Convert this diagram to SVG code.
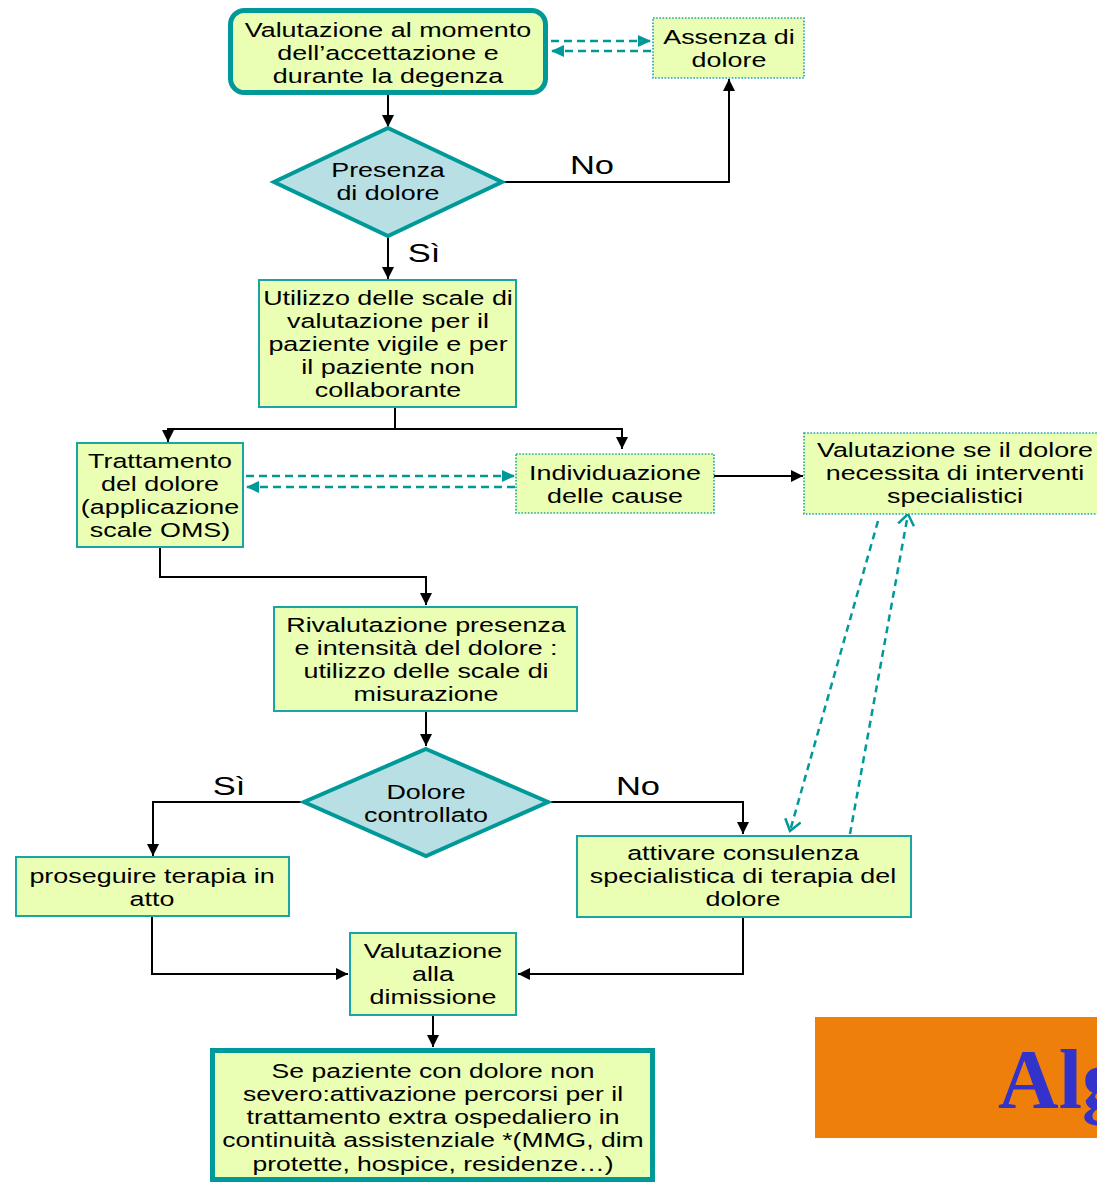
<svg xmlns="http://www.w3.org/2000/svg" width="1097" height="1182" viewBox="0 0 1097 1182">
<style>
.box{fill:#EAFFB4;stroke:#1AA5A5;stroke-width:2}
.dot{fill:#EAFFB4;stroke:#1AA5A5;stroke-width:1.6;stroke-dasharray:1.6 1.6}
.thick{fill:#EAFFB4;stroke:#009999;stroke-width:5}
.dia{fill:#B8DFE3;stroke:#009999;stroke-width:4}
.t{font-family:"Liberation Sans",Arial,sans-serif;font-size:19.5px;fill:#000;text-anchor:middle}
.lbl{font-family:"Liberation Sans",Arial,sans-serif;font-size:25px;fill:#000;text-anchor:middle}
.ln{fill:none;stroke:#000;stroke-width:2}
.dash{fill:none;stroke:#009999;stroke-width:2.5;stroke-dasharray:8 5}
.dash2{fill:none;stroke:#009999;stroke-width:2.5;stroke-dasharray:7 5}
</style>
<defs>
<marker id="ab" markerUnits="userSpaceOnUse" markerWidth="12" markerHeight="12" refX="12" refY="6" orient="auto"><path d="M0,0 L12,6 L0,12 z" fill="#000"/></marker>
<marker id="at" markerUnits="userSpaceOnUse" markerWidth="13" markerHeight="12" refX="13" refY="6" orient="auto"><path d="M0,0 L13,6 L0,12 z" fill="#009999"/></marker>
<marker id="ao" markerUnits="userSpaceOnUse" markerWidth="14" markerHeight="18" refX="12" refY="9" orient="auto"><path d="M1,1 L12,9 L1,17" fill="none" stroke="#009999" stroke-width="2.5"/></marker>
</defs>

<g id="connectors">
<path class="ln" d="M388,95 V127" marker-end="url(#ab)"/>
<path class="ln" d="M502,182 H729 V79" marker-end="url(#ab)"/>
<path class="ln" d="M388,236 V279" marker-end="url(#ab)"/>
<path class="ln" d="M395,407 V429 H168 V442" marker-end="url(#ab)"/>
<path class="ln" d="M395,429 H622 V449" marker-end="url(#ab)"/>
<path class="dash" d="M551,41 H651" marker-end="url(#at)"/>
<path class="dash" d="M651,51 H551" marker-end="url(#at)"/>
<path class="dash" d="M246,476 H515" marker-end="url(#at)"/>
<path class="dash" d="M515,487 H246" marker-end="url(#at)"/>
<path class="ln" d="M714,476 H803" marker-end="url(#ab)"/>
<path class="ln" d="M160,548 V577 H426 V605" marker-end="url(#ab)"/>
<path class="ln" d="M426,712 V746" marker-end="url(#ab)"/>
<path class="ln" d="M303,802 H153 V856" marker-end="url(#ab)"/>
<path class="ln" d="M549,802 H743 V834" marker-end="url(#ab)"/>
<path class="ln" d="M152,916 V974 H348" marker-end="url(#ab)"/>
<path class="ln" d="M743,917 V974 H518" marker-end="url(#ab)"/>
<path class="ln" d="M433,1015 V1047" marker-end="url(#ab)"/>
<path class="dash2" d="M878,521 L790,831" marker-end="url(#ao)"/>
<path class="dash2" d="M850,834 L908,514" marker-end="url(#ao)"/>
<text class="lbl" transform="translate(592 0) scale(1.38 1)" x="0" y="174">No</text>
<text class="lbl" transform="translate(424 0) scale(1.38 1)" x="0" y="262">Sì</text>
<text class="lbl" transform="translate(229 0) scale(1.38 1)" x="0" y="795">Sì</text>
<text class="lbl" transform="translate(638 0) scale(1.38 1)" x="0" y="795">No</text>
</g>

<g id="n-valutazione-accettazione">
<rect class="thick" x="230.5" y="10.5" width="315" height="82" rx="14"/>
<g transform="translate(388 0) scale(1.38 1)">
<text class="t" x="0" y="37">Valutazione al momento</text>
<text class="t" x="0" y="60">dell’accettazione e</text>
<text class="t" x="0" y="83">durante la degenza</text>
</g>
</g>

<g id="n-assenza">
<rect class="dot" x="653" y="18" width="151" height="60"/>
<g transform="translate(729 0) scale(1.38 1)">
<text class="t" x="0" y="44.5">Assenza di</text>
<text class="t" x="0" y="67.5">dolore</text>
</g>
</g>

<g id="n-presenza">
<polygon class="dia" points="388,128 502,182 388,236 274,182"/>
<g transform="translate(388 0) scale(1.38 1)">
<text class="t" x="0" y="177.5">Presenza</text>
<text class="t" x="0" y="200.5">di dolore</text>
</g>
</g>

<g id="n-utilizzo">
<rect class="box" x="259" y="280" width="257" height="127"/>
<g transform="translate(388 0) scale(1.38 1)">
<text class="t" x="0" y="305">Utilizzo delle scale di</text>
<text class="t" x="0" y="328">valutazione per il</text>
<text class="t" x="0" y="351">paziente vigile e per</text>
<text class="t" x="0" y="374">il paziente non</text>
<text class="t" x="0" y="397">collaborante</text>
</g>
</g>

<g id="n-trattamento">
<rect class="box" x="77" y="443" width="166" height="104"/>
<g transform="translate(160 0) scale(1.38 1)">
<text class="t" x="0" y="468">Trattamento</text>
<text class="t" x="0" y="491">del dolore</text>
<text class="t" x="0" y="514">(applicazione</text>
<text class="t" x="0" y="537">scale OMS)</text>
</g>
</g>

<g id="n-individuazione">
<rect class="dot" x="516" y="454" width="198" height="59"/>
<g transform="translate(615 0) scale(1.38 1)">
<text class="t" x="0" y="480">Individuazione</text>
<text class="t" x="0" y="503">delle cause</text>
</g>
</g>

<g id="n-valutazione-specialistici">
<rect class="dot" x="804" y="433" width="302" height="81"/>
<g transform="translate(955 0) scale(1.38 1)">
<text class="t" x="0" y="457">Valutazione se il dolore</text>
<text class="t" x="0" y="480">necessita di interventi</text>
<text class="t" x="0" y="503">specialistici</text>
</g>
</g>

<g id="n-rivalutazione">
<rect class="box" x="274" y="607" width="303" height="104"/>
<g transform="translate(426 0) scale(1.38 1)">
<text class="t" x="0" y="632">Rivalutazione presenza</text>
<text class="t" x="0" y="655">e intensità del dolore :</text>
<text class="t" x="0" y="678">utilizzo delle scale di</text>
<text class="t" x="0" y="701">misurazione</text>
</g>
</g>

<g id="n-dolore-controllato">
<polygon class="dia" points="426,749 548,802 426,856 304,802"/>
<g transform="translate(426 0) scale(1.38 1)">
<text class="t" x="0" y="799">Dolore</text>
<text class="t" x="0" y="822">controllato</text>
</g>
</g>

<g id="n-proseguire">
<rect class="box" x="16" y="857" width="273" height="59"/>
<g transform="translate(152 0) scale(1.38 1)">
<text class="t" x="0" y="883">proseguire terapia in</text>
<text class="t" x="0" y="906">atto</text>
</g>
</g>

<g id="n-attivare">
<rect class="box" x="577" y="836" width="334" height="81"/>
<g transform="translate(743 0) scale(1.38 1)">
<text class="t" x="0" y="860">attivare consulenza</text>
<text class="t" x="0" y="883">specialistica di terapia del</text>
<text class="t" x="0" y="906">dolore</text>
</g>
</g>

<g id="n-dimissione">
<rect class="box" x="350" y="933" width="166" height="82"/>
<g transform="translate(433 0) scale(1.38 1)">
<text class="t" x="0" y="958">Valutazione</text>
<text class="t" x="0" y="981">alla</text>
<text class="t" x="0" y="1004">dimissione</text>
</g>
</g>

<g id="n-extra-ospedaliero">
<rect class="thick" x="212.5" y="1050.5" width="440" height="129"/>
<g transform="translate(433 0) scale(1.36 1)">
<text class="t" x="0" y="1078">Se paziente con dolore non</text>
<text class="t" x="0" y="1101">severo:attivazione percorsi per il</text>
<text class="t" x="0" y="1124">trattamento extra ospedaliero in</text>
<text class="t" x="0" y="1147">continuità assistenziale *(MMG, dim</text>
<text class="t" x="0" y="1171">protette, hospice, residenze…)</text>
</g>
</g>

<g id="title-banner">
<rect x="815" y="1017" width="290" height="121" fill="#EE7F0B"/>
<text x="998" y="1108" font-family="'Liberation Serif','Times New Roman',serif" font-weight="bold" font-size="84" fill="#3333CC">Alg</text>
</g>
</svg>
